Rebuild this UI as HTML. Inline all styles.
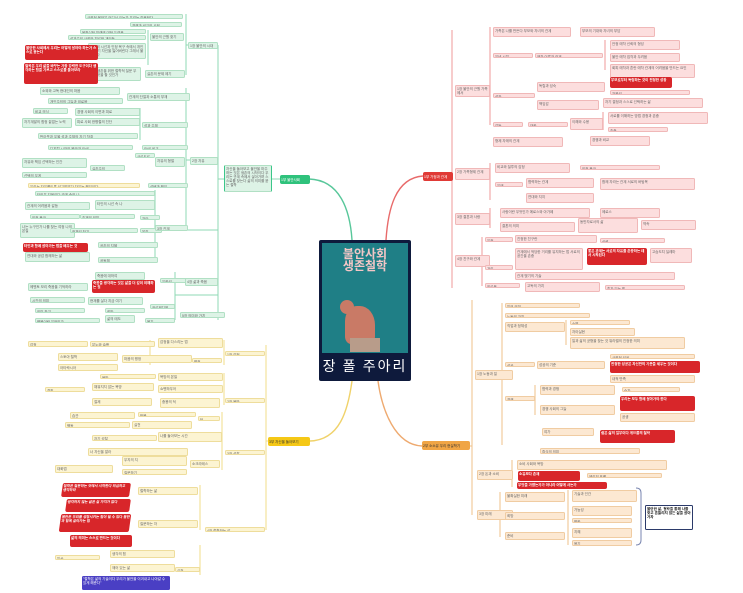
<!DOCTYPE html>
<html><head><meta charset="utf-8">
<style>
html,body{margin:0;padding:0;background:#fff;}
body{width:743px;height:593px;position:relative;overflow:hidden;font-family:"Liberation Sans","Noto Sans CJK KR",sans-serif;}
.b{position:absolute;box-sizing:border-box;font-size:3.5px;line-height:4px;overflow:hidden;border-radius:1.5px;padding:0.5px 1px;color:#666;word-break:break-all;}
.g{background:#ddf3e6;border:0.5px solid #b1e0c4;}
.r{background:#fcdede;border:0.5px solid #f0b8b8;}
.y{background:#fcf4d2;border:0.5px solid #eedd9c;}
.o{background:#fce8d2;border:0.5px solid #f0cca2;}
.R{background:#d8262a;color:#fff;font-weight:bold;border-radius:2px;}
.P{background:#4a3fc4;color:#fff;}
svg{position:absolute;left:0;top:0;}
</style></head><body>
<svg width="743" height="593" fill="none" stroke-width="1">
 <path d="M309 179 C340 180 350 210 352 240" stroke="#58c79a" stroke-width="1.4"/>
 <path d="M423 176 C395 178 388 210 386 240" stroke="#e86a6a" stroke-width="1.4"/>
 <path d="M310 441 C340 440 348 410 352 381" stroke="#f0d26a" stroke-width="1.4"/>
 <path d="M422 446 C395 445 382 410 378 381" stroke="#eeaa70" stroke-width="1.4"/>
 <g stroke="#8fd8b4">
 <line x1="218" y1="45" x2="218" y2="320"/><line x1="218" y1="179" x2="281" y2="179"/>
 <line x1="186" y1="14" x2="186" y2="75"/><line x1="186" y1="88" x2="186" y2="230"/>
 <line x1="148" y1="30" x2="148" y2="65"/><line x1="140" y1="108" x2="140" y2="140"/>
 <line x1="155" y1="190" x2="155" y2="262"/><line x1="175" y1="272" x2="175" y2="320"/>
 <line x1="186" y1="45" x2="218" y2="45"/><line x1="186" y1="160" x2="218" y2="160"/>
 <line x1="175" y1="295" x2="218" y2="295"/><line x1="186" y1="230" x2="218" y2="230"/>
 </g>
 <g stroke="#ef9a9a">
 <line x1="452" y1="30" x2="452" y2="288"/>
 <line x1="490" y1="27" x2="490" y2="125"/><line x1="490" y1="163" x2="490" y2="200"/>
 <line x1="490" y1="208" x2="490" y2="228"/><line x1="482" y1="237" x2="482" y2="286"/>
 <line x1="605" y1="40" x2="605" y2="70"/><line x1="603" y1="112" x2="603" y2="130"/>
 </g>
 <g stroke="#efc08a">
 <line x1="472" y1="300" x2="472" y2="515"/><line x1="470" y1="446" x2="472" y2="446"/>
 <line x1="502" y1="303" x2="502" y2="445"/><line x1="566" y1="320" x2="566" y2="345"/>
 <line x1="535" y1="385" x2="535" y2="415"/><line x1="512" y1="460" x2="512" y2="487"/>
 <line x1="500" y1="492" x2="500" y2="537"/><line x1="568" y1="490" x2="568" y2="545"/>
 </g>
 <path d="M636 488 Q641 488 641 493 L641 540 Q641 545 636 545" stroke="#7a86b0" stroke-width="1"/>
 <g stroke="#f1dc8a">
 <line x1="266" y1="345" x2="266" y2="530"/><line x1="266" y1="441" x2="268" y2="441"/>
 <line x1="224" y1="340" x2="224" y2="365"/><line x1="224" y1="373" x2="224" y2="405"/>
 <line x1="222" y1="412" x2="222" y2="470"/><line x1="200" y1="485" x2="200" y2="530"/>
 <line x1="200" y1="545" x2="200" y2="575"/><line x1="150" y1="340" x2="150" y2="365"/>
 </g>
</svg>

<div style="position:absolute;left:319px;top:240px;width:92px;height:141px;background:#0e1a3c;border-radius:2px;"></div>
<div style="position:absolute;left:322px;top:243px;width:86px;height:110px;background:#1f7f86;"></div>
<div style="position:absolute;left:322px;top:248px;width:86px;text-align:center;color:#f3c6c6;font-weight:bold;font-size:12px;line-height:12px;font-family:'Noto Sans CJK KR',sans-serif;">불안사회<br>생존철학</div>
<div style="position:absolute;left:340px;top:300px;width:14px;height:14px;background:#c97a66;border-radius:50%;"></div>
<div style="position:absolute;left:345px;top:306px;width:30px;height:38px;background:#c97a66;border-radius:40% 50% 20% 20%;"></div>
<div style="position:absolute;left:350px;top:338px;width:30px;height:14px;background:#b89c8a;"></div>
<div style="position:absolute;left:319px;top:357px;width:92px;text-align:center;color:#fff;font-size:14px;line-height:18px;font-family:'Noto Sans CJK KR',sans-serif;letter-spacing:2px;">장 폴 주아리</div>

<div class="b" style="left:280px;top:175px;width:30px;height:9px;background:#2fc27c;color:#fff;border-radius:2px;line-height:8px;">1부 불안사회</div>
<div class="b" style="left:423px;top:172px;width:30px;height:9px;background:#e03a36;color:#fff;border-radius:2px;line-height:8px;">1부 가정과 관계</div>
<div class="b" style="left:268px;top:437px;width:42px;height:9px;background:#f5c816;color:#333;border-radius:2px;line-height:8px;">3부 자신을 돌아보기</div>
<div class="b" style="left:422px;top:441px;width:48px;height:9px;background:#f0a545;color:#333;border-radius:2px;line-height:8px;">2부 소소유 우리 현실학기</div>

<div class="b g" style="left:224px;top:165px;width:48px;height:27px;border-left:1.5px solid #3cc68a;border-right:1.5px solid #3cc68a;">자신을 돌아보고 불안을 마주하는 것은 생존의 시작이다 우리는 관계 속에서 살아가며 스스로를 찾는다 삶의 의미를 묻는 철학</div>
<div class="b g" style="left:85px;top:14px;width:98px;height:5px;">사회적 불안은 어디서 오는가 우리는 질문한다</div>
<div class="b g" style="left:130px;top:22px;width:52px;height:5px;">경쟁과 비교의 사회</div>
<div class="b g" style="left:80px;top:29px;width:66px;height:5px;">불확실한 미래에 대한 두려움</div>
<div class="b g" style="left:68px;top:35px;width:78px;height:5px;">성과주의 사회와 피로한 개인들</div>
<div class="b g" style="left:150px;top:33px;width:34px;height:8px;">불안의 근원 찾기</div>
<div class="b g" style="left:88px;top:43px;width:58px;height:16px;">타인의 시선과 인정 욕구 속에서 개인은 자기 자신을 잃어버린다 그래서 불안하다</div>
<div class="b g" style="left:95px;top:67px;width:46px;height:14px;">생존을 위한 철학적 질문 무엇을 할 것인가</div>
<div class="b g" style="left:145px;top:70px;width:40px;height:8px;">실존의 문제 제기</div>
<div class="b g" style="left:188px;top:42px;width:30px;height:7px;">1장 불안의 시대</div>
<div class="b R" style="left:25px;top:45px;width:73px;height:15px;">불안한 사회에서 우리는 어떻게 살아야 하는가 스스로 묻는다</div>
<div class="b R" style="left:24px;top:63px;width:74px;height:21px;">철학은 우리 삶을 바꾸는 가장 강력한 도구이다 생각하는 힘을 기르고 스스로를 돌아보라</div>
<div class="b g" style="left:40px;top:87px;width:80px;height:8px;">소외와 고독 현대인의 마음</div>
<div class="b g" style="left:48px;top:98px;width:75px;height:6px;">개인주의의 그늘과 외로움</div>
<div class="b g" style="left:127px;top:93px;width:63px;height:8px;">관계의 단절과 소통의 부재</div>
<div class="b g" style="left:33px;top:108px;width:35px;height:6px;">비교 의식</div>
<div class="b g" style="left:75px;top:108px;width:65px;height:8px;">경쟁 사회의 이면과 피로</div>
<div class="b g" style="left:22px;top:118px;width:50px;height:10px;">자기계발의 함정 끝없는 노력</div>
<div class="b g" style="left:75px;top:118px;width:65px;height:8px;">피로 사회 한병철의 진단</div>
<div class="b g" style="left:38px;top:133px;width:100px;height:6px;">번아웃과 우울 성과 주체의 자기 착취</div>
<div class="b g" style="left:142px;top:122px;width:46px;height:6px;">성과 주체</div>
<div class="b g" style="left:48px;top:145px;width:85px;height:5px;">디지털 시대의 불안과 SNS</div>
<div class="b g" style="left:142px;top:145px;width:46px;height:5px;">SNS 비교</div>
<div class="b g" style="left:22px;top:158px;width:65px;height:10px;">자유와 책임 선택하는 인간</div>
<div class="b g" style="left:22px;top:172px;width:65px;height:6px;">선택의 무게</div>
<div class="b g" style="left:90px;top:165px;width:35px;height:6px;">실존주의</div>
<div class="b g" style="left:135px;top:153px;width:20px;height:5px;">사르트르</div>
<div class="b g" style="left:155px;top:157px;width:30px;height:10px;">자유의 형벌</div>
<div class="b g" style="left:190px;top:157px;width:28px;height:8px;">2장 자유</div>
<div class="b y" style="left:28px;top:183px;width:112px;height:5px;">우리는 자유롭도록 선고받았다 자유는 책임이다</div>
<div class="b g" style="left:148px;top:183px;width:40px;height:5px;">선택과 책임</div>
<div class="b g" style="left:35px;top:191px;width:120px;height:5px;">타인은 지옥이다 관계 속의 나</div>
<div class="b g" style="left:25px;top:202px;width:65px;height:8px;">관계의 어려움과 갈등</div>
<div class="b g" style="left:95px;top:200px;width:60px;height:10px;">타인의 시선 속 나</div>
<div class="b g" style="left:30px;top:214px;width:50px;height:5px;">인정 욕구</div>
<div class="b g" style="left:80px;top:214px;width:55px;height:5px;">존재의 의미</div>
<div class="b g" style="left:140px;top:215px;width:20px;height:5px;">자아</div>
<div class="b g" style="left:20px;top:223px;width:55px;height:15px;">나는 누구인가 나를 찾는 여정 나의 본질</div>
<div class="b g" style="left:70px;top:228px;width:68px;height:5px;">정체성 찾기</div>
<div class="b g" style="left:140px;top:228px;width:22px;height:5px;">본질</div>
<div class="b g" style="left:155px;top:225px;width:33px;height:6px;">3장 관계</div>
<div class="b R" style="left:23px;top:243px;width:65px;height:9px;">타인과 함께 살아가는 법을 배우는 것</div>
<div class="b g" style="left:98px;top:242px;width:60px;height:6px;">공존의 지혜</div>
<div class="b g" style="left:25px;top:252px;width:65px;height:10px;">연대와 공감 함께하는 삶</div>
<div class="b g" style="left:98px;top:257px;width:60px;height:6px;">공동체</div>
<div class="b g" style="left:95px;top:272px;width:50px;height:8px;">죽음에 대하여</div>
<div class="b R" style="left:92px;top:280px;width:63px;height:13px;">죽음을 생각하는 것은 삶을 더 깊이 이해하는 길</div>
<div class="b g" style="left:160px;top:278px;width:28px;height:5px;">유한성</div>
<div class="b g" style="left:28px;top:283px;width:60px;height:8px;">메멘토 모리 죽음을 기억하라</div>
<div class="b g" style="left:30px;top:297px;width:55px;height:6px;">시간의 의미</div>
<div class="b g" style="left:88px;top:297px;width:55px;height:8px;">현재를 살다 지금 여기</div>
<div class="b g" style="left:150px;top:304px;width:25px;height:5px;">카르페디엠</div>
<div class="b g" style="left:35px;top:308px;width:50px;height:5px;">의미 찾기</div>
<div class="b g" style="left:105px;top:308px;width:40px;height:5px;">희망</div>
<div class="b g" style="left:35px;top:318px;width:65px;height:5px;">행복이란 무엇인가</div>
<div class="b g" style="left:105px;top:315px;width:30px;height:8px;">삶의 태도</div>
<div class="b g" style="left:145px;top:318px;width:30px;height:5px;">용기</div>
<div class="b g" style="left:185px;top:278px;width:33px;height:8px;">4장 삶과 죽음</div>
<div class="b g" style="left:180px;top:312px;width:45px;height:6px;">5장 의미와 가치</div>

<div class="b r" style="left:455px;top:85px;width:35px;height:12px;">1장 불안의 근원 가족에서</div>
<div class="b r" style="left:455px;top:168px;width:35px;height:12px;">2장 가족형제 관계</div>
<div class="b r" style="left:455px;top:213px;width:35px;height:12px;">3장 결혼과 사랑</div>
<div class="b r" style="left:455px;top:255px;width:35px;height:12px;">4장 친구와 관계</div>
<div class="b r" style="left:493px;top:27px;width:78px;height:10px;">가족은 나를 만든다 부모와 자녀의 관계</div>
<div class="b r" style="left:580px;top:27px;width:75px;height:10px;">부모의 기대와 자녀의 부담</div>
<div class="b r" style="left:493px;top:53px;width:40px;height:5px;">유년 시절</div>
<div class="b r" style="left:535px;top:53px;width:68px;height:5px;">애착 이론과 관계</div>
<div class="b r" style="left:610px;top:40px;width:70px;height:10px;">안정 애착 신뢰의 형성</div>
<div class="b r" style="left:610px;top:53px;width:70px;height:9px;">불안 애착 집착과 두려움</div>
<div class="b r" style="left:610px;top:64px;width:85px;height:14px;">회피 애착과 혼란 애착 관계의 어려움을 만드는 요인</div>
<div class="b r" style="left:493px;top:93px;width:42px;height:5px;">성장</div>
<div class="b r" style="left:537px;top:82px;width:68px;height:10px;">독립과 성숙</div>
<div class="b R" style="left:610px;top:77px;width:62px;height:11px;">부모로부터 독립하는 것이 진정한 성장</div>
<div class="b r" style="left:610px;top:90px;width:80px;height:5px;">자율성</div>
<div class="b r" style="left:537px;top:100px;width:62px;height:10px;">책임감</div>
<div class="b r" style="left:603px;top:98px;width:100px;height:10px;">자기 결정과 스스로 선택하는 삶</div>
<div class="b r" style="left:493px;top:122px;width:30px;height:5px;">갈등</div>
<div class="b r" style="left:528px;top:122px;width:40px;height:5px;">대화</div>
<div class="b r" style="left:570px;top:118px;width:33px;height:12px;">이해와 수용</div>
<div class="b r" style="left:608px;top:112px;width:100px;height:12px;">서로를 이해하는 방법 경청과 존중</div>
<div class="b r" style="left:608px;top:127px;width:60px;height:5px;">존중</div>
<div class="b r" style="left:493px;top:137px;width:70px;height:10px;">형제 자매의 관계</div>
<div class="b r" style="left:590px;top:136px;width:60px;height:10px;">경쟁과 비교</div>
<div class="b r" style="left:495px;top:163px;width:75px;height:10px;">비교와 질투의 감정</div>
<div class="b r" style="left:580px;top:165px;width:80px;height:5px;">인정 욕구</div>
<div class="b r" style="left:495px;top:182px;width:28px;height:5px;">우애</div>
<div class="b r" style="left:526px;top:178px;width:68px;height:10px;">협력하는 관계</div>
<div class="b r" style="left:600px;top:178px;width:95px;height:12px;">함께 자라는 관계 서로의 버팀목</div>
<div class="b r" style="left:526px;top:193px;width:68px;height:10px;">연대와 지지</div>
<div class="b r" style="left:500px;top:208px;width:90px;height:10px;">사랑이란 무엇인가 에로스와 아가페</div>
<div class="b r" style="left:600px;top:208px;width:60px;height:10px;">에로스</div>
<div class="b r" style="left:500px;top:222px;width:75px;height:10px;">결혼의 의미</div>
<div class="b r" style="left:578px;top:218px;width:60px;height:15px;">동반자로서의 삶</div>
<div class="b r" style="left:641px;top:220px;width:55px;height:10px;">약속</div>
<div class="b r" style="left:485px;top:237px;width:28px;height:5px;">우정</div>
<div class="b r" style="left:515px;top:235px;width:82px;height:8px;">진정한 친구란</div>
<div class="b r" style="left:600px;top:238px;width:65px;height:5px;">신뢰</div>
<div class="b r" style="left:485px;top:265px;width:28px;height:5px;">거리</div>
<div class="b r" style="left:515px;top:248px;width:68px;height:22px;">관계에서 적당한 거리를 유지하는 법 서로의 공간을 존중</div>
<div class="b R" style="left:587px;top:248px;width:60px;height:17px;">좋은 관계는 서로의 자유를 존중하는 데서 시작된다</div>
<div class="b r" style="left:650px;top:248px;width:42px;height:15px;">고슴도치 딜레마</div>
<div class="b r" style="left:515px;top:272px;width:160px;height:8px;">관계 맺기의 기술</div>
<div class="b r" style="left:485px;top:283px;width:35px;height:5px;">외로움</div>
<div class="b r" style="left:525px;top:282px;width:75px;height:10px;">고독의 가치</div>
<div class="b r" style="left:605px;top:285px;width:80px;height:5px;">혼자 있는 힘</div>

<div class="b o" style="left:475px;top:370px;width:38px;height:10px;">1장 노동과 일</div>
<div class="b o" style="left:477px;top:470px;width:36px;height:10px;">2장 돈과 소비</div>
<div class="b o" style="left:477px;top:510px;width:36px;height:10px;">3장 미래</div>
<div class="b o" style="left:505px;top:303px;width:75px;height:5px;">일의 의미</div>
<div class="b o" style="left:505px;top:313px;width:85px;height:5px;">노동의 가치</div>
<div class="b o" style="left:505px;top:322px;width:60px;height:10px;">직업과 정체성</div>
<div class="b o" style="left:570px;top:320px;width:60px;height:5px;">소명</div>
<div class="b o" style="left:570px;top:328px;width:65px;height:8px;">자아실현</div>
<div class="b o" style="left:570px;top:337px;width:115px;height:12px;">일과 삶의 균형을 찾는 것 워라밸의 진정한 의미</div>
<div class="b o" style="left:505px;top:362px;width:30px;height:5px;">성공</div>
<div class="b o" style="left:537px;top:361px;width:68px;height:8px;">성공의 기준</div>
<div class="b o" style="left:610px;top:354px;width:85px;height:5px;">사회적 성공</div>
<div class="b R" style="left:610px;top:361px;width:90px;height:12px;">진정한 성공은 자신만의 기준을 세우는 것이다</div>
<div class="b o" style="left:610px;top:375px;width:85px;height:8px;">내적 만족</div>
<div class="b o" style="left:505px;top:396px;width:30px;height:5px;">경쟁</div>
<div class="b o" style="left:540px;top:385px;width:75px;height:10px;">협력과 경쟁</div>
<div class="b o" style="left:540px;top:405px;width:75px;height:10px;">경쟁 사회의 그늘</div>
<div class="b o" style="left:622px;top:387px;width:58px;height:5px;">승자</div>
<div class="b R" style="left:620px;top:396px;width:75px;height:15px;">우리는 모두 함께 살아가야 한다</div>
<div class="b o" style="left:620px;top:413px;width:75px;height:9px;">공생</div>
<div class="b o" style="left:542px;top:428px;width:52px;height:8px;">여가</div>
<div class="b R" style="left:600px;top:430px;width:75px;height:13px;">쉼은 삶의 일부이다 게으름의 철학</div>
<div class="b o" style="left:540px;top:448px;width:100px;height:6px;">휴식의 의미</div>
<div class="b o" style="left:517px;top:460px;width:150px;height:10px;">소비 사회와 욕망</div>
<div class="b R" style="left:518px;top:471px;width:62px;height:10px;">소유보다 존재</div>
<div class="b o" style="left:587px;top:473px;width:75px;height:5px;">에리히 프롬</div>
<div class="b R" style="left:517px;top:482px;width:90px;height:7px;">무엇을 가졌는가가 아니라 어떻게 사는가</div>
<div class="b o" style="left:505px;top:492px;width:60px;height:10px;">불확실한 미래</div>
<div class="b o" style="left:572px;top:490px;width:65px;height:12px;">기술과 인간</div>
<div class="b o" style="left:505px;top:512px;width:60px;height:8px;">희망</div>
<div class="b o" style="left:572px;top:506px;width:60px;height:10px;">가능성</div>
<div class="b o" style="left:572px;top:518px;width:60px;height:5px;">변화</div>
<div class="b o" style="left:505px;top:532px;width:60px;height:8px;">준비</div>
<div class="b o" style="left:572px;top:528px;width:60px;height:10px;">지혜</div>
<div class="b o" style="left:572px;top:540px;width:60px;height:6px;">용기</div>
<div class="b" style="left:645px;top:505px;width:48px;height:25px;background:#fff;border:1.5px solid #2b3a6a;color:#111;font-size:3.6px;line-height:4.2px;font-weight:bold;">불안한 삶, 철학을 통해 나를 찾고 흔들리지 않는 삶을 살아가자</div>

<div class="b y" style="left:28px;top:341px;width:60px;height:6px;">감정</div>
<div class="b y" style="left:90px;top:341px;width:65px;height:6px;">분노와 슬픔</div>
<div class="b y" style="left:158px;top:338px;width:65px;height:10px;">감정을 다스리는 법</div>
<div class="b y" style="left:225px;top:351px;width:40px;height:5px;">1장 감정</div>
<div class="b y" style="left:58px;top:353px;width:60px;height:8px;">스토아 철학</div>
<div class="b y" style="left:122px;top:355px;width:70px;height:8px;">마음의 평정</div>
<div class="b y" style="left:192px;top:358px;width:30px;height:5px;">평정</div>
<div class="b y" style="left:58px;top:364px;width:60px;height:7px;">아타락시아</div>
<div class="b y" style="left:100px;top:374px;width:56px;height:5px;">욕망</div>
<div class="b y" style="left:158px;top:373px;width:65px;height:8px;">욕망의 본질</div>
<div class="b y" style="left:45px;top:387px;width:40px;height:5px;">결핍</div>
<div class="b y" style="left:92px;top:383px;width:62px;height:8px;">채워지지 않는 욕망</div>
<div class="b y" style="left:158px;top:385px;width:65px;height:8px;">쇼펜하우어</div>
<div class="b y" style="left:225px;top:398px;width:40px;height:5px;">2장 욕망</div>
<div class="b y" style="left:92px;top:398px;width:60px;height:8px;">절제</div>
<div class="b y" style="left:160px;top:398px;width:60px;height:10px;">중용의 덕</div>
<div class="b y" style="left:70px;top:412px;width:65px;height:7px;">습관</div>
<div class="b y" style="left:138px;top:412px;width:58px;height:5px;">반복</div>
<div class="b y" style="left:198px;top:416px;width:22px;height:5px;">덕</div>
<div class="b y" style="left:65px;top:422px;width:65px;height:6px;">행동</div>
<div class="b y" style="left:132px;top:421px;width:60px;height:8px;">실천</div>
<div class="b y" style="left:92px;top:435px;width:65px;height:6px;">자기 성찰</div>
<div class="b y" style="left:158px;top:432px;width:64px;height:10px;">나를 돌아보는 시간</div>
<div class="b y" style="left:225px;top:450px;width:40px;height:5px;">3장 성찰</div>
<div class="b y" style="left:88px;top:448px;width:100px;height:8px;">너 자신을 알라</div>
<div class="b y" style="left:190px;top:460px;width:30px;height:8px;">소크라테스</div>
<div class="b y" style="left:122px;top:456px;width:65px;height:10px;">무지의 지</div>
<div class="b y" style="left:122px;top:469px;width:65px;height:6px;">질문하기</div>
<div class="b y" style="left:55px;top:465px;width:58px;height:8px;">대화법</div>
<div class="b y" style="left:138px;top:487px;width:60px;height:8px;">철학하는 삶</div>
<div class="b y" style="left:205px;top:527px;width:60px;height:5px;">4장 철학하는 삶</div>
<div class="b y" style="left:110px;top:550px;width:65px;height:8px;">생각의 힘</div>
<div class="b y" style="left:110px;top:564px;width:65px;height:8px;">깨어 있는 삶</div>
<div class="b y" style="left:175px;top:567px;width:25px;height:5px;">실천</div>
<div class="b y" style="left:55px;top:555px;width:45px;height:5px;">일상</div>
<div class="b y" style="left:138px;top:520px;width:60px;height:8px;">질문하는 자</div>
<div class="b R" style="left:62px;top:483px;width:68px;height:14px;transform:skewX(-8deg);">철학은 질문하는 것에서 시작한다 의심하고 생각하라</div>
<div class="b R" style="left:66px;top:499px;width:64px;height:13px;transform:skewX(-8deg);">생각하지 않는 삶은 살 가치가 없다</div>
<div class="b R" style="left:60px;top:514px;width:70px;height:18px;transform:skewX(-8deg);">불안은 우리를 성장시키는 힘이 될 수 있다 불안과 함께 살아가는 법</div>
<div class="b R" style="left:70px;top:535px;width:62px;height:12px;">삶의 의미는 스스로 만드는 것이다</div>
<div class="b P" style="left:82px;top:576px;width:88px;height:14px;">"철학은 삶의 기술이다 우리가 불안을 이겨내고 나아갈 수 있게 해준다"</div>
</body></html>
